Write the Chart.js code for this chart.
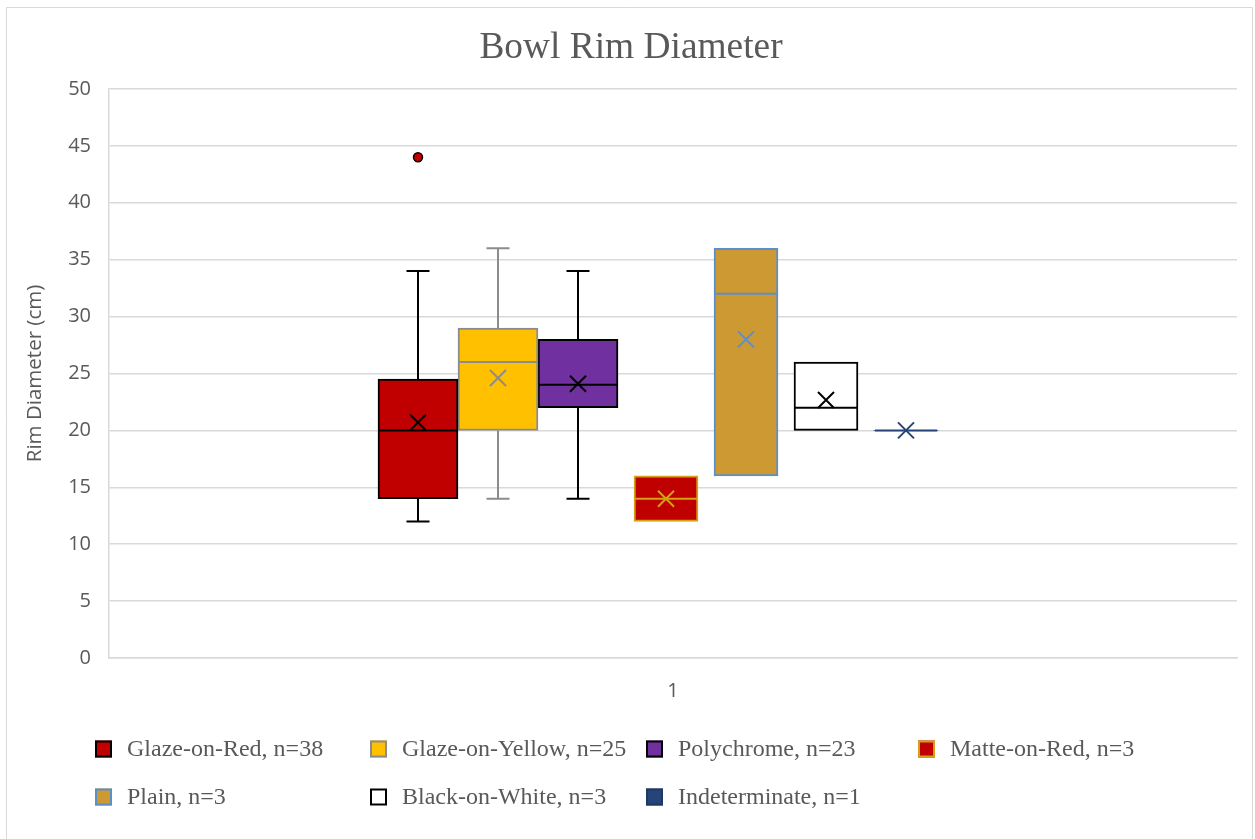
<!DOCTYPE html>
<html>
<head>
<meta charset="utf-8">
<title>Bowl Rim Diameter</title>
<script src="https://cdn.jsdelivr.net/npm/chart.js@4.4.1/dist/chart.umd.min.js"></script>
<style>
  html, body { margin: 0; padding: 0; background: #ffffff; }
  #wrap { width: 1255px; height: 839px; position: relative; }
  canvas { display: block; }
</style>
</head>
<body>
<div id="wrap"><canvas id="chart" width="1255" height="839"></canvas></div>
<script>
// ---- data ----
const categories = ['1'];
const seriesNames = [
  'Glaze-on-Red, n=38',
  'Glaze-on-Yellow, n=25',
  'Polychrome, n=23',
  'Matte-on-Red, n=3',
  'Plain, n=3',
  'Black-on-White, n=3',
  'Indeterminate, n=1'
];
const whiskerLow  = [12, 14, 14, 12, 16, 20, 20];
const quartile1   = [14, 20, 22, 12, 16, 20, 20];
const medians     = [20, 26, 24, 14, 32, 22, 20];
const quartile3   = [24.5, 29, 28, 16, 36, 26, 20];
const whiskerHigh = [34, 36, 34, 16, 36, 26, 20];
const means       = [20.7, 24.6, 24.1, 14, 28, 22.67, 20];
const outliers    = [[44], [], [], [], [], [], []];
const yTickStep = 5;
const yMin = 0, yMax = 50;

// ---- styles ----
const fills   = ['#C00000', '#FFC000', '#7030A0', '#C00000', '#CC9933', '#FFFFFF', '#264478'];
const strokes = ['#000000', '#8C8C8C', '#000000', '#D4A017', '#5B8FC9', '#000000', '#264478'];
const textGrey = '#595959';
const gridGrey = '#D9D9D9';
const sansFont = 'Open Sans';
const serifFont = 'Liberation Serif';

// Box slots: one slot unit per series; wide boxes fill the slot,
// narrow boxes take 80% of it and sit against the slot's right edge.
const slotPx = 80;
function boxWidth(i) { return i < 3 ? slotPx : slotPx * 0.8; }
function boxCenter(i) { return i + (slotPx - boxWidth(i)) / 2 / slotPx; }

const datasets = seriesNames.map((name, i) => ({
  label: name,
  xAxisID: 'x2',
  data: [{ x: boxCenter(i), y: [quartile1[i], quartile3[i]] }],
  backgroundColor: fills[i],
  borderColor: strokes[i],
  borderWidth: quartile1[i] === quartile3[i] ? 0 : 2,
  borderSkipped: false,
  barThickness: boxWidth(i),
  grouped: false
}));

// whiskers, medians, mean markers and outlier points
const boxWhiskerPlugin = {
  id: 'boxWhisker',
  afterDatasetsDraw(chart) {
    const ctx = chart.ctx;
    const ys = chart.scales.y;
    chart.data.datasets.forEach((ds, i) => {
      const bar = chart.getDatasetMeta(i).data[0];
      if (!bar) return;
      const cx = bar.x;
      const half = bar.width / 2;
      ctx.save();
      ctx.strokeStyle = strokes[i];
      ctx.lineWidth = 2;
      ctx.lineCap = 'butt';
      const cap = 11.5;
      if (whiskerHigh[i] > quartile3[i]) {
        const yq = ys.getPixelForValue(quartile3[i]);
        const yw = ys.getPixelForValue(whiskerHigh[i]);
        ctx.beginPath();
        ctx.moveTo(cx, yq); ctx.lineTo(cx, yw);
        ctx.moveTo(cx - cap, yw); ctx.lineTo(cx + cap, yw);
        ctx.stroke();
      }
      if (whiskerLow[i] < quartile1[i]) {
        const yq = ys.getPixelForValue(quartile1[i]);
        const yw = ys.getPixelForValue(whiskerLow[i]);
        ctx.beginPath();
        ctx.moveTo(cx, yq); ctx.lineTo(cx, yw);
        ctx.moveTo(cx - cap, yw); ctx.lineTo(cx + cap, yw);
        ctx.stroke();
      }
      // median
      const ym = ys.getPixelForValue(medians[i]);
      ctx.beginPath();
      ctx.moveTo(cx - half + 1, ym); ctx.lineTo(cx + half - 1, ym);
      ctx.stroke();
      // mean marker (x)
      const ymean = ys.getPixelForValue(means[i]);
      const s = 8;
      ctx.beginPath();
      ctx.moveTo(cx - s, ymean - s); ctx.lineTo(cx + s, ymean + s);
      ctx.moveTo(cx - s, ymean + s); ctx.lineTo(cx + s, ymean - s);
      ctx.stroke();
      // outliers
      outliers[i].forEach(v => {
        const yo = ys.getPixelForValue(v);
        ctx.beginPath();
        ctx.arc(cx, yo, 4.5, 0, Math.PI * 2);
        ctx.fillStyle = fills[i];
        ctx.fill();
        ctx.lineWidth = 1.5;
        ctx.strokeStyle = '#000000';
        ctx.stroke();
      });
      ctx.restore();
    });
  }
};

// legend laid out as a four-column grid below the plot
const gridLegendPlugin = {
  id: 'gridLegend',
  afterDraw(chart) {
    const ctx = chart.ctx;
    const cols = [95, 370, 646, 918];
    const rows = [749, 797];
    const box = 17;
    ctx.save();
    ctx.font = '24px "' + serifFont + '"';
    ctx.textBaseline = 'middle';
    ctx.textAlign = 'left';
    chart.data.datasets.forEach((ds, i) => {
      const x = cols[i % 4];
      const y = rows[Math.floor(i / 4)];
      ctx.fillStyle = fills[i];
      ctx.fillRect(x, y - box / 2, box, box);
      ctx.strokeStyle = strokes[i] === fills[i] ? '#203864' : strokes[i];
      ctx.lineWidth = 2;
      ctx.strokeRect(x + 1, y - box / 2 + 1, box - 2, box - 2);
      ctx.fillStyle = textGrey;
      ctx.fillText(ds.label, x + 32, y + 1);
    });
    ctx.restore();
  }
};

// thin frame around the chart
const framePlugin = {
  id: 'frame',
  beforeDraw(chart) {
    const ctx = chart.ctx;
    ctx.save();
    ctx.strokeStyle = gridGrey;
    ctx.lineWidth = 1;
    ctx.beginPath();
    ctx.moveTo(6.5, chart.height);
    ctx.lineTo(6.5, 7.5);
    ctx.lineTo(1252.5, 7.5);
    ctx.lineTo(1252.5, chart.height);
    ctx.stroke();
    ctx.restore();
  }
};

new Chart(document.getElementById('chart'), {
  type: 'bar',
  data: { labels: categories, datasets },
  plugins: [framePlugin, boxWhiskerPlugin, gridLegendPlugin],
  options: {
    responsive: false,
    animation: false,
    layout: { padding: { left: 7, right: 0, top: 0, bottom: 0 } },
    plugins: {
      legend: { display: false },
      tooltip: { enabled: false },
      title: {
        display: true,
        text: 'Bowl Rim Diameter',
        color: textGrey,
        font: { family: serifFont, size: 37.4, weight: 'normal', lineHeight: 1.2 },
        padding: { top: 26, bottom: 18.1 }
      }
    },
    scales: {
      x: {
        type: 'category',
        labels: categories,
        position: 'bottom',
        grid: { display: false, drawTicks: false },
        border: { display: true, color: gridGrey, width: 1.5 },
        ticks: { color: textGrey, font: { family: sansFont, size: 20 }, padding: 21 },
        afterFit(scale) { scale.height = 181; }
      },
      x2: {
        type: 'linear',
        display: false,
        offset: false,
        bounds: 'data',
        min: -3.8625,
        max: 10.2375
      },
      y: {
        type: 'linear',
        position: 'left',
        min: yMin,
        max: yMax,
        ticks: {
          stepSize: yTickStep,
          color: textGrey,
          font: { family: sansFont, size: 20 },
          padding: 18
        },
        grid: { color: gridGrey, lineWidth: 1.5, drawTicks: false },
        border: { display: true, color: gridGrey, width: 1.5 },
        title: {
          display: true,
          text: 'Rim Diameter (cm)',
          color: textGrey,
          font: { family: sansFont, size: 20.5, lineHeight: 1.2 },
          padding: { top: 16, bottom: 0 }
        },
        afterFit(scale) { scale.width = 102; }
      },
      yRight: {
        type: 'linear',
        position: 'right',
        display: true,
        ticks: { display: false },
        grid: { display: false, drawTicks: false },
        border: { display: false },
        afterFit(scale) { scale.width = 18; }
      }
    }
  }
});
</script>
</body>
</html>
